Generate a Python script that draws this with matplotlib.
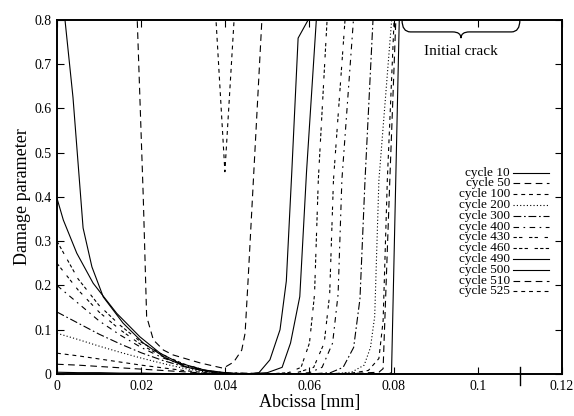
"""
    Damage parameter profiles along the abscissa for several cycles
"""
import matplotlib
matplotlib.use("Agg")
import matplotlib.pyplot as plt
from matplotlib.path import Path
from matplotlib.patches import PathPatch

plt.rcParams['font.family'] = ['Liberation Serif', 'DejaVu Serif']

# -- values --
cycles = [10, 50, 100, 200, 300, 400, 430, 460, 490, 500, 510, 525]

x_10 = [0, 0.005, 0.01, 0.015, 0.02, 0.025, 0.03, 0.035, 0.04, 0.06, 0.079, 0.0795, 0.0818]
y_10 = [0.004, 0.003, 0.003, 0.002, 0.002, 0.001, 0.001, 0, 0, 0, 0.001, 0.003, 1.0]

x_50 = [0, 0.005, 0.01, 0.015, 0.02, 0.025, 0.03, 0.035, 0.04, 0.06, 0.07, 0.0765, 0.0775, 0.0791, 0.0806]
y_50 = [0.022, 0.02, 0.017, 0.014, 0.011, 0.008, 0.005, 0.002, 0, 0, 0.001, 0.004, 0.012, 0.44, 0.82]

x_100 = [0, 0.005, 0.01, 0.015, 0.02, 0.025, 0.03, 0.035, 0.04, 0.06, 0.07, 0.074, 0.0765, 0.0775, 0.0785, 0.0802]
y_100 = [0.047, 0.041, 0.034, 0.027, 0.02, 0.014, 0.008, 0.003, 0.001, 0, 0.002, 0.008, 0.035, 0.12, 0.438, 0.82]

x_200 = [0, 0.005, 0.01, 0.015, 0.02, 0.025, 0.03, 0.035, 0.04, 0.065, 0.07, 0.073, 0.0745, 0.0755, 0.0765, 0.0797]
y_200 = [0.092, 0.078, 0.063, 0.049, 0.036, 0.024, 0.013, 0.005, 0.001, 0, 0.004, 0.02, 0.06, 0.13, 0.438, 0.82]

x_300 = [0, 0.005, 0.01, 0.015, 0.02, 0.025, 0.03, 0.035, 0.04, 0.06, 0.065, 0.068, 0.0705, 0.072, 0.0732, 0.0752]
y_300 = [0.14, 0.115, 0.09, 0.068, 0.048, 0.031, 0.017, 0.007, 0.002, 0, 0.003, 0.015, 0.06, 0.17, 0.438, 0.82]

x_400 = [0, 0.005, 0.01, 0.015, 0.02, 0.025, 0.03, 0.035, 0.04, 0.055, 0.06, 0.063, 0.0655, 0.0668, 0.0677, 0.0706]
y_400 = [0.20, 0.16, 0.12, 0.088, 0.06, 0.037, 0.02, 0.008, 0.002, 0, 0.003, 0.015, 0.07, 0.18, 0.438, 0.82]

x_430 = [0, 0.005, 0.01, 0.015, 0.02, 0.025, 0.03, 0.035, 0.04, 0.052, 0.057, 0.061, 0.0635, 0.0648, 0.0657, 0.0686]
y_430 = [0.25, 0.19, 0.14, 0.10, 0.066, 0.04, 0.021, 0.008, 0.002, 0, 0.003, 0.015, 0.07, 0.18, 0.438, 0.82]

x_460 = [0, 0.005, 0.01, 0.015, 0.02, 0.025, 0.03, 0.035, 0.04, 0.05, 0.055, 0.058, 0.06, 0.0612, 0.0621, 0.0643]
y_460 = [0.30, 0.215, 0.155, 0.11, 0.072, 0.044, 0.023, 0.009, 0.002, 0, 0.003, 0.015, 0.07, 0.18, 0.438, 0.82]

x_490 = [0, 0.0015, 0.0047, 0.0086, 0.0142, 0.0197, 0.0245, 0.029, 0.035, 0.04, 0.045, 0.05, 0.0535, 0.0555, 0.0577, 0.0593, 0.0619]
y_490 = [0.397, 0.348, 0.273, 0.205, 0.137, 0.084, 0.047, 0.025, 0.009, 0.003, 0, 0.003, 0.015, 0.07, 0.175, 0.457, 0.84]

x_500 = [0, 0.0038, 0.0062, 0.0083, 0.011, 0.0157, 0.0205, 0.026, 0.031, 0.036, 0.04, 0.045, 0.048, 0.0506, 0.053, 0.0545, 0.0558, 0.0573, 0.062]
y_500 = [0.975, 0.625, 0.33, 0.242, 0.174, 0.115, 0.07, 0.035, 0.015, 0.005, 0.001, 0, 0.003, 0.032, 0.1, 0.21, 0.457, 0.759, 0.84]

x_510 = [0.018, 0.0205, 0.0213, 0.0229, 0.0253, 0.0276, 0.034, 0.0395, 0.042, 0.0439, 0.0447, 0.0454, 0.0488]
y_510 = [1.1, 0.4, 0.13, 0.077, 0.054, 0.043, 0.025, 0.013, 0.027, 0.054, 0.092, 0.21, 0.82]

x_525 = [0.0368, 0.0399, 0.0431]
y_525 = [0.96, 0.457, 0.96]

xs = [x_10, x_50, x_100, x_200, x_300, x_400, x_430, x_460, x_490, x_500, x_510, x_525]
ys = [y_10, y_50, y_100, y_200, y_300, y_400, y_430, y_460, y_490, y_500, y_510, y_525]

# -- gnuplot-like dash patterns --
styles = [
    '-',
    (0, (6, 4)),
    (0, (3.5, 3.5)),
    (0, (1, 2)),
    (0, (7, 2.5, 1.5, 2.5)),
    (0, (5, 4, 1.5, 4)),
    (0, (3, 2, 3, 6)),
    (0, (3, 2, 3, 2, 3, 6)),
    '-',
    '-',
    (0, (6, 4)),
    (0, (3.5, 3.5)),
]

crack_start = 0.082
crack_end = 0.11

xticks = [0, 0.02, 0.04, 0.06, 0.08, 0.1, 0.12]
xtick_labels = ['0', '0.02', '0.04', '0.06', '0.08', '0.1', '0.12']
yticks = [0, 0.1, 0.2, 0.3, 0.4, 0.5, 0.6, 0.7, 0.8]
ytick_labels = ['0', '0.1', '0.2', '0.3', '0.4', '0.5', '0.6', '0.7', '0.8']

# -- figure --
fig = plt.figure(figsize=(5.74, 4.16), dpi=100)
ax = fig.add_axes([0.0993, 0.101, 0.8797, 0.851])

for c, x, y, ls in zip(cycles, xs, ys, styles):
    ax.plot(x, y, color='black', lw=0.8, linestyle=ls)

ax.set_xlim(0, 0.12)
ax.set_ylim(0, 0.8)
ax.set_xticks(xticks)
ax.set_xticklabels(xtick_labels)
ax.set_yticks(yticks)
ax.set_yticklabels(ytick_labels)
ax.tick_params(direction='in', top=True, right=True, length=5, width=0.8,
               labelsize=10, pad=4)
for s in ax.spines.values():
    s.set_linewidth(1.4)

ax.set_xlabel("Abcissa [mm]", fontsize=13, labelpad=1)
ax.set_ylabel("Damage parameter", fontsize=13, labelpad=2)

# -- crack end marker crossing the bottom axis --
ax.axvline(crack_end, ymin=-0.03, ymax=0.02, color='black', lw=1.0, clip_on=False)

# -- brace over the initial crack --
mid = (crack_start + crack_end) / 2
w = 0.002
top, arm, tip = 0.8, 0.773, 0.759
verts = [
    (crack_start, top), (crack_start, arm), (crack_start + w, arm),
    (mid - w, arm),
    (mid, arm), (mid, tip),
    (mid, arm), (mid + w, arm),
    (crack_end - w, arm),
    (crack_end, arm), (crack_end, top),
]
codes = [Path.MOVETO, Path.CURVE3, Path.CURVE3,
         Path.LINETO,
         Path.CURVE3, Path.CURVE3,
         Path.CURVE3, Path.CURVE3,
         Path.LINETO,
         Path.CURVE3, Path.CURVE3]
ax.add_patch(PathPatch(Path(verts, codes), fill=False, lw=0.9, color='black', clip_on=False))
ax.text(mid, 0.728, "Initial crack", ha='center', va='center', fontsize=11)

# -- key: labels right aligned, line samples to their right (gnuplot style) --
key_top = 0.569      # axes fraction of first row
key_step = 0.0305    # row spacing in axes fraction
for i, (c, ls) in enumerate(zip(cycles, styles)):
    ky = key_top - i * key_step
    ax.text(0.897, ky, f"cycle {c}", transform=ax.transAxes, ha='right',
            va='center', fontsize=9.5, linespacing=1.0)
    ax.plot([0.903, 0.974], [ky, ky], transform=ax.transAxes, color='black',
            lw=0.8, linestyle=ls)

fig.savefig("out.png", dpi=100)
